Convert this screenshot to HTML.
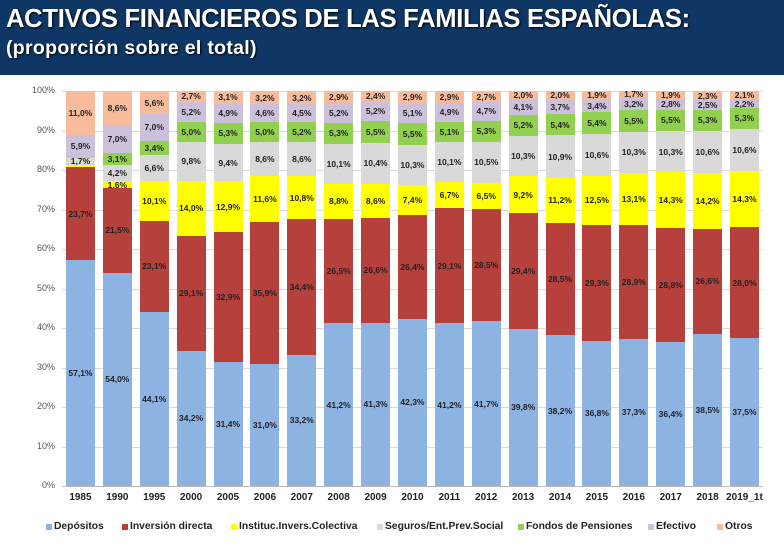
<!DOCTYPE html>
<html><head><meta charset="utf-8"><style>
*{margin:0;padding:0;box-sizing:border-box}
body{width:784px;height:553px;background:#fff;font-family:"Liberation Sans",sans-serif;position:relative;overflow:hidden}
.hdr{position:absolute;left:0;top:0;width:784px;height:75px;background:#0f3766}
.t1{position:absolute;left:6px;top:5px;color:#fff;font-weight:bold;font-size:25.6px;letter-spacing:-0.3px;text-shadow:1px 1px 2px #000}
.t2{position:absolute;left:6px;top:37px;color:#fff;font-weight:bold;font-size:19.5px;letter-spacing:0.3px;text-shadow:1px 1px 2px #000}
.grid{position:absolute;left:62px;width:701px;height:1px;background:#d9d9d9}
.yl{position:absolute;left:10px;width:45px;text-align:right;font-size:9px;color:#555}
.plot{position:absolute;left:62px;top:91px;width:701px;height:395px;display:flex}
.col{width:36.9px;height:395px;display:flex;justify-content:center}
.bar{width:29px;height:395px;display:flex;flex-direction:column-reverse}
.s{display:flex;align-items:center;justify-content:center;font-size:8.5px;font-weight:bold;color:#222;white-space:nowrap;overflow:visible;flex-shrink:0}
.a{background:#8db3e2}.b{background:#b5403c}.c{background:#ffff00}.d{background:#d9d9d9}.e{background:#92d050}.f{background:#ccc0da}.g{background:#f8bc9c}
.xl{position:absolute;top:492px;left:62px;width:701px;display:flex;font-size:10px;font-weight:bold;color:#222}
.xl div{width:36.9px;text-align:center}
.leg span{position:absolute;top:521px;font-size:10.3px;font-weight:bold;color:#222;white-space:nowrap;display:flex;align-items:center}
.leg i{display:inline-block;width:6px;height:6px;margin-right:2px}
</style></head><body>
<div class="hdr"><div class="t1">ACTIVOS FINANCIEROS DE LAS FAMILIAS ESPAÑOLAS:</div><div class="t2">(proporción sobre el total)</div></div>
<div class="grid" style="top:91px"></div><div class="grid" style="top:130.5px"></div><div class="grid" style="top:170px"></div><div class="grid" style="top:209.5px"></div><div class="grid" style="top:249px"></div><div class="grid" style="top:288.5px"></div><div class="grid" style="top:328px"></div><div class="grid" style="top:367.5px"></div><div class="grid" style="top:407px"></div><div class="grid" style="top:446.5px"></div><div class="grid" style="top:486px;background:#bbb"></div>
<div class="yl" style="top:85px">100%</div><div class="yl" style="top:124.5px">90%</div><div class="yl" style="top:164px">80%</div><div class="yl" style="top:203.5px">70%</div><div class="yl" style="top:243px">60%</div><div class="yl" style="top:282.5px">50%</div><div class="yl" style="top:322px">40%</div><div class="yl" style="top:361.5px">30%</div><div class="yl" style="top:401px">20%</div><div class="yl" style="top:440.5px">10%</div><div class="yl" style="top:480px">0%</div>
<div class="plot">
<div class="col"><div class="bar"><div class="s a" style="height:57.1%">57,1%</div><div class="s b" style="height:23.7%">23,7%</div><div class="s c" style="height:0.6%"></div><div class="s d" style="height:1.7%">1,7%</div><div class="s f" style="height:5.9%">5,9%</div><div class="s g" style="height:11%">11,0%</div></div></div>
<div class="col"><div class="bar"><div class="s a" style="height:54%">54,0%</div><div class="s b" style="height:21.5%">21,5%</div><div class="s c" style="height:1.6%">1,6%</div><div class="s d" style="height:4.2%">4,2%</div><div class="s e" style="height:3.1%">3,1%</div><div class="s f" style="height:7%">7,0%</div><div class="s g" style="height:8.6%">8,6%</div></div></div>
<div class="col"><div class="bar"><div class="s a" style="height:44.1%">44,1%</div><div class="s b" style="height:23.1%">23,1%</div><div class="s c" style="height:10.1%">10,1%</div><div class="s d" style="height:6.6%">6,6%</div><div class="s e" style="height:3.4%">3,4%</div><div class="s f" style="height:7%">7,0%</div><div class="s g" style="height:5.6%">5,6%</div></div></div>
<div class="col"><div class="bar"><div class="s a" style="height:34.2%">34,2%</div><div class="s b" style="height:29.1%">29,1%</div><div class="s c" style="height:14%">14,0%</div><div class="s d" style="height:9.8%">9,8%</div><div class="s e" style="height:5%">5,0%</div><div class="s f" style="height:5.2%">5,2%</div><div class="s g" style="height:2.7%">2,7%</div></div></div>
<div class="col"><div class="bar"><div class="s a" style="height:31.4%">31,4%</div><div class="s b" style="height:32.9%">32,9%</div><div class="s c" style="height:12.9%">12,9%</div><div class="s d" style="height:9.4%">9,4%</div><div class="s e" style="height:5.3%">5,3%</div><div class="s f" style="height:4.9%">4,9%</div><div class="s g" style="height:3.2%">3,1%</div></div></div>
<div class="col"><div class="bar"><div class="s a" style="height:31%">31,0%</div><div class="s b" style="height:35.9%">35,9%</div><div class="s c" style="height:11.6%">11,6%</div><div class="s d" style="height:8.6%">8,6%</div><div class="s e" style="height:5%">5,0%</div><div class="s f" style="height:4.6%">4,6%</div><div class="s g" style="height:3.3%">3,2%</div></div></div>
<div class="col"><div class="bar"><div class="s a" style="height:33.2%">33,2%</div><div class="s b" style="height:34.4%">34,4%</div><div class="s c" style="height:10.8%">10,8%</div><div class="s d" style="height:8.6%">8,6%</div><div class="s e" style="height:5.2%">5,2%</div><div class="s f" style="height:4.5%">4,5%</div><div class="s g" style="height:3.3%">3,2%</div></div></div>
<div class="col"><div class="bar"><div class="s a" style="height:41.2%">41,2%</div><div class="s b" style="height:26.5%">26,5%</div><div class="s c" style="height:8.8%">8,8%</div><div class="s d" style="height:10.1%">10,1%</div><div class="s e" style="height:5.3%">5,3%</div><div class="s f" style="height:5.2%">5,2%</div><div class="s g" style="height:2.9%">2,9%</div></div></div>
<div class="col"><div class="bar"><div class="s a" style="height:41.3%">41,3%</div><div class="s b" style="height:26.6%">26,6%</div><div class="s c" style="height:8.6%">8,6%</div><div class="s d" style="height:10.4%">10,4%</div><div class="s e" style="height:5.5%">5,5%</div><div class="s f" style="height:5.2%">5,2%</div><div class="s g" style="height:2.4%">2,4%</div></div></div>
<div class="col"><div class="bar"><div class="s a" style="height:42.3%">42,3%</div><div class="s b" style="height:26.4%">26,4%</div><div class="s c" style="height:7.4%">7,4%</div><div class="s d" style="height:10.3%">10,3%</div><div class="s e" style="height:5.5%">5,5%</div><div class="s f" style="height:5.1%">5,1%</div><div class="s g" style="height:3%">2,9%</div></div></div>
<div class="col"><div class="bar"><div class="s a" style="height:41.2%">41,2%</div><div class="s b" style="height:29.1%">29,1%</div><div class="s c" style="height:6.7%">6,7%</div><div class="s d" style="height:10.1%">10,1%</div><div class="s e" style="height:5.1%">5,1%</div><div class="s f" style="height:4.9%">4,9%</div><div class="s g" style="height:2.9%">2,9%</div></div></div>
<div class="col"><div class="bar"><div class="s a" style="height:41.7%">41,7%</div><div class="s b" style="height:28.5%">28,5%</div><div class="s c" style="height:6.5%">6,5%</div><div class="s d" style="height:10.5%">10,5%</div><div class="s e" style="height:5.3%">5,3%</div><div class="s f" style="height:4.7%">4,7%</div><div class="s g" style="height:2.8%">2,7%</div></div></div>
<div class="col"><div class="bar"><div class="s a" style="height:39.8%">39,8%</div><div class="s b" style="height:29.4%">29,4%</div><div class="s c" style="height:9.2%">9,2%</div><div class="s d" style="height:10.3%">10,3%</div><div class="s e" style="height:5.2%">5,2%</div><div class="s f" style="height:4.1%">4,1%</div><div class="s g" style="height:2%">2,0%</div></div></div>
<div class="col"><div class="bar"><div class="s a" style="height:38.2%">38,2%</div><div class="s b" style="height:28.5%">28,5%</div><div class="s c" style="height:11.2%">11,2%</div><div class="s d" style="height:10.9%">10,9%</div><div class="s e" style="height:5.4%">5,4%</div><div class="s f" style="height:3.7%">3,7%</div><div class="s g" style="height:2.1%">2,0%</div></div></div>
<div class="col"><div class="bar"><div class="s a" style="height:36.8%">36,8%</div><div class="s b" style="height:29.3%">29,3%</div><div class="s c" style="height:12.5%">12,5%</div><div class="s d" style="height:10.6%">10,6%</div><div class="s e" style="height:5.4%">5,4%</div><div class="s f" style="height:3.4%">3,4%</div><div class="s g" style="height:2%">1,9%</div></div></div>
<div class="col"><div class="bar"><div class="s a" style="height:37.3%">37,3%</div><div class="s b" style="height:28.9%">28,9%</div><div class="s c" style="height:13.1%">13,1%</div><div class="s d" style="height:10.3%">10,3%</div><div class="s e" style="height:5.5%">5,5%</div><div class="s f" style="height:3.2%">3,2%</div><div class="s g" style="height:1.7%">1,7%</div></div></div>
<div class="col"><div class="bar"><div class="s a" style="height:36.4%">36,4%</div><div class="s b" style="height:28.8%">28,8%</div><div class="s c" style="height:14.3%">14,3%</div><div class="s d" style="height:10.3%">10,3%</div><div class="s e" style="height:5.5%">5,5%</div><div class="s f" style="height:2.8%">2,8%</div><div class="s g" style="height:1.9%">1,9%</div></div></div>
<div class="col"><div class="bar"><div class="s a" style="height:38.5%">38,5%</div><div class="s b" style="height:26.6%">26,6%</div><div class="s c" style="height:14.2%">14,2%</div><div class="s d" style="height:10.6%">10,6%</div><div class="s e" style="height:5.3%">5,3%</div><div class="s f" style="height:2.5%">2,5%</div><div class="s g" style="height:2.3%">2,3%</div></div></div>
<div class="col"><div class="bar"><div class="s a" style="height:37.5%">37,5%</div><div class="s b" style="height:28%">28,0%</div><div class="s c" style="height:14.3%">14,3%</div><div class="s d" style="height:10.6%">10,6%</div><div class="s e" style="height:5.3%">5,3%</div><div class="s f" style="height:2.2%">2,2%</div><div class="s g" style="height:2.1%">2,1%</div></div></div>
</div>
<div class="xl"><div>1985</div><div>1990</div><div>1995</div><div>2000</div><div>2005</div><div>2006</div><div>2007</div><div>2008</div><div>2009</div><div>2010</div><div>2011</div><div>2012</div><div>2013</div><div>2014</div><div>2015</div><div>2016</div><div>2017</div><div>2018</div><div style="white-space:nowrap;overflow:hidden">2019_1t</div></div>
<div class="leg"><span style="left:46px"><i class="a"></i>Depósitos</span><span style="left:122px"><i class="b"></i>Inversión directa</span><span style="left:231px"><i class="c"></i>Instituc.Invers.Colectiva</span><span style="left:377px"><i class="d"></i>Seguros/Ent.Prev.Social</span><span style="left:518px"><i class="e"></i>Fondos de Pensiones</span><span style="left:648px"><i class="f"></i>Efectivo</span><span style="left:717px"><i class="g"></i>Otros</span></div>
</body></html>
